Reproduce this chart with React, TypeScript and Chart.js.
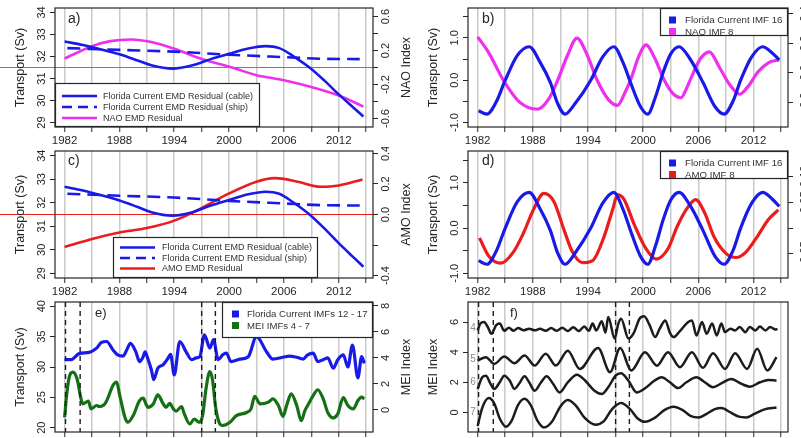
import { useEffect, useRef } from 'react';
import { Chart, registerables } from 'chart.js';

Chart.register(...registerables);

const FONT = '"Liberation Sans", Arial, Helvetica, sans-serif';
const INK = '#262626';
const GRID = '#cacaca';
const BLUE = '#1a1ae8';
const MAGENTA = '#ee30ee';
const RED = '#ec1c1c';
const GREEN = '#157015';
const BLACK = '#1c1c1c';

type Pt = [number, number];

// shared time axis
const X_MIN = 1980.95;
const X_MAX = 2015.75;
const YEAR_TICKS = [1982, 1985, 1988, 1991, 1994, 1997, 2000, 2003, 2006, 2009, 2012, 2015];
const YEAR_LABELS = [1982, 1988, 1994, 2000, 2006, 2012];
const ENSO_EVENTS = [1982.1, 1983.7, 1997.0, 1998.5];

// EMD residuals (Sv, index units)
const cableResidual: Pt[] = [
  [1982.0, 32.68], [1984.0, 32.52], [1986.0, 32.32], [1988.0, 32.1], [1990.0, 31.82], [1991.5, 31.6],
  [1993.8, 31.45], [1996.0, 31.6], [1998.0, 31.88], [2000.0, 32.12], [2002.0, 32.35], [2004.0, 32.47],
  [2005.5, 32.38], [2007.0, 32.02], [2008.8, 31.5], [2010.5, 30.88], [2012.0, 30.28], [2013.5, 29.72], [2014.7, 29.28],
];
const shipResidual: Pt[] = [
  [1982.3, 32.38], [1988.0, 32.3], [1994.0, 32.22], [2000.0, 32.08], [2006.0, 31.97], [2010.0, 31.9], [2014.3, 31.88],
];
const naoResidual: Pt[] = [
  [1982.0, 0.105], [1985.0, 0.25], [1987.0, 0.31], [1989.3, 0.33], [1991.5, 0.3], [1994.0, 0.22], [1997.0, 0.1],
  [2000.3, 0.0], [2003.0, -0.09], [2006.0, -0.15], [2009.0, -0.23], [2012.0, -0.33], [2014.7, -0.46],
];
const amoResidual: Pt[] = [
  [1982.0, -0.213], [1985.0, -0.16], [1988.0, -0.118], [1991.0, -0.089], [1994.0, -0.04], [1996.5, 0.027],
  [2000.0, 0.138], [2003.0, 0.215], [2005.0, 0.238], [2007.5, 0.215], [2010.0, 0.182], [2012.0, 0.19], [2014.6, 0.23],
];

// intrinsic mode functions
const fcImf16: Pt[] = [
  [1982.1, -0.72], [1983.0, -0.8], [1984.0, -0.52], [1985.0, 0.0], [1986.3, 0.58], [1987.6, 0.79], [1988.8, 0.42],
  [1989.9, -0.05], [1990.7, -0.55], [1991.5, -0.8], [1992.6, -0.55], [1994.3, 0.0], [1995.6, 0.55], [1996.8, 0.79],
  [1997.8, 0.42], [1998.7, -0.1], [1999.7, -0.62], [2000.5, -0.8], [2001.3, -0.42], [2002.2, 0.2], [2003.0, 0.62],
  [2003.9, 0.79], [2005.1, 0.5], [2006.5, -0.05], [2007.8, -0.62], [2008.8, -0.8], [2009.8, -0.48], [2010.6, 0.0],
  [2011.8, 0.55], [2013.0, 0.79], [2014.0, 0.65], [2014.8, 0.48],
];
const naoImf8: Pt[] = [
  [1982.0, 0.244], [1983.2, 0.136], [1984.8, -0.052], [1986.5, -0.197], [1988.5, -0.249], [1989.7, -0.182],
  [1990.7, -0.052], [1991.8, 0.122], [1992.8, 0.235], [1993.9, 0.122], [1995.0, -0.052], [1996.2, -0.182],
  [1997.2, -0.223], [1998.0, -0.139], [1998.7, -0.037], [1999.5, 0.107], [2000.3, 0.189], [2001.3, 0.093],
  [2002.3, -0.052], [2003.3, -0.147], [2004.1, -0.171], [2004.7, -0.11], [2005.2, -0.037], [2006.2, 0.093],
  [2007.2, 0.142], [2008.3, 0.035], [2009.4, -0.081], [2010.5, -0.147], [2011.4, -0.095], [2012.5, 0.006],
  [2013.7, 0.07], [2014.8, 0.087],
];
const amoImf8: Pt[] = [
  [1982.2, -0.019], [1983.2, -0.054], [1984.5, -0.068], [1985.9, -0.046], [1987.0, -0.009], [1988.1, 0.037],
  [1989.2, 0.067], [1990.3, 0.051], [1991.4, -0.004], [1992.3, -0.046], [1993.4, -0.067], [1994.5, -0.063],
  [1995.7, -0.019], [1996.7, 0.037], [1997.2, 0.064], [1997.9, 0.056], [1999.0, 0.008], [2000.3, -0.04],
  [2001.4, -0.06], [2002.7, -0.04], [2003.7, 0.003], [2004.8, 0.039], [2005.7, 0.055], [2006.7, 0.029],
  [2007.7, -0.017], [2009.0, -0.049], [2010.1, -0.057], [2011.2, -0.046], [2012.5, -0.014], [2013.6, 0.016],
  [2014.7, 0.035],
];
const fcImfs12to17: Pt[] = [
  [1982.0, 31.2], [1982.7, 31.2], [1983.6, 32.2], [1984.7, 32.4], [1985.5, 33.1], [1986.0, 34.0], [1986.6, 34.2],
  [1987.3, 32.8], [1987.8, 32.0], [1988.4, 31.8], [1988.8, 32.8], [1989.2, 33.9], [1989.8, 32.5], [1990.2, 30.9],
  [1990.6, 31.7], [1990.8, 32.5], [1991.1, 31.4], [1991.5, 29.5], [1991.75, 27.9], [1992.2, 29.8], [1992.8, 30.4],
  [1993.3, 31.4], [1993.6, 32.1], [1994.0, 28.7], [1994.6, 34.2], [1995.3, 32.5], [1995.9, 31.2], [1996.4, 31.5],
  [1996.8, 31.7], [1997.3, 35.3], [1997.9, 33.1], [1998.3, 34.5], [1998.8, 31.2], [1999.3, 32.0], [1999.7, 32.3],
  [2000.2, 30.9], [2001.2, 31.3], [2002.1, 31.7], [2003.0, 35.0], [2004.1, 32.5], [2004.8, 31.3], [2005.9, 31.6],
  [2006.6, 31.8], [2007.4, 31.6], [2008.1, 31.3], [2008.6, 32.0], [2009.2, 32.3], [2009.7, 30.9], [2010.3, 31.2],
  [2010.8, 31.5], [2011.4, 29.8], [2011.9, 31.2], [2012.5, 32.0], [2013.0, 30.0], [2013.5, 33.6], [2014.1, 28.2],
  [2014.5, 31.7], [2014.8, 30.6],
];
const meiImfs4to7: Pt[] = [
  [1982.0, -0.57], [1982.2, 0.98], [1982.5, 2.5], [1982.9, 2.9], [1983.4, 2.3], [1983.75, 1.0], [1984.0, 0.46],
  [1984.6, 0.67], [1984.9, 0.08], [1985.5, 0.34], [1985.8, 0.26], [1986.4, 0.46], [1986.7, 0.85], [1987.3, 1.9],
  [1987.7, 2.14], [1988.0, 1.24], [1988.6, -0.57], [1988.9, -0.95], [1989.5, -0.44], [1990.2, 0.72], [1990.6, 0.9],
  [1990.9, 0.46], [1991.1, 0.2], [1991.7, 0.46], [1992.2, 1.15], [1992.8, 0.46], [1993.1, 0.2], [1993.5, 0.5],
  [1993.9, 0.08], [1994.2, -0.1], [1994.8, 0.26], [1995.1, -0.3], [1995.7, -1.08], [1996.2, -0.7], [1996.7, -0.95],
  [1997.1, -0.44], [1997.5, 1.75], [1997.9, 2.95], [1998.2, 2.27], [1998.5, 0.34], [1998.9, -0.95], [1999.3, -1.2],
  [2000.1, -0.95], [2000.8, -0.44], [2001.9, -0.2], [2002.4, 0.08], [2002.8, 1.05], [2003.4, 0.46], [2004.3, 0.6],
  [2004.8, 0.85], [2005.4, 0.34], [2005.9, -0.5], [2006.3, 0.34], [2006.8, 1.24], [2007.4, 0.34], [2007.9, -0.83],
  [2008.3, -0.05], [2008.6, 0.34], [2009.2, 1.1], [2009.7, 1.55], [2010.3, 0.85], [2010.8, -0.2], [2011.4, -0.62],
  [2011.9, -0.3], [2012.5, 0.95], [2013.0, 0.34], [2013.6, 0.08], [2014.1, 0.72], [2014.5, 0.98], [2014.8, 0.85],
];

// MEI IMFs 4-7, stacked with offsets 6, 4, 2, 0
const meiImf4: Pt[] = [
  [1982.0, 5.44], [1982.3, 5.9], [1982.7, 6.0], [1983.1, 5.67], [1983.5, 5.22], [1984.0, 5.78], [1984.4, 5.9],
  [1984.9, 5.42], [1985.4, 5.62], [1985.9, 5.42], [1986.4, 5.6], [1987.0, 5.45], [1987.6, 5.56], [1988.2, 5.45],
  [1988.8, 5.55], [1989.4, 5.42], [1990.0, 5.6], [1990.6, 5.42], [1991.2, 5.62], [1991.8, 5.4], [1992.4, 5.65],
  [1993.0, 5.4], [1993.6, 5.7], [1994.1, 5.42], [1994.5, 5.9], [1994.9, 5.44], [1995.5, 6.05], [1995.9, 5.3],
  [1996.2, 6.33], [1996.9, 4.9], [1997.3, 5.9], [1997.6, 6.22], [1998.4, 4.9], [1999.0, 5.3], [1999.6, 6.22],
  [2000.1, 6.38], [2000.7, 5.8], [2001.3, 5.0], [2001.8, 5.56], [2002.4, 6.11], [2002.9, 5.3], [2003.3, 5.0],
  [2004.0, 5.4], [2004.9, 6.0], [2005.3, 6.11], [2005.8, 5.11], [2006.4, 6.0], [2006.9, 5.22], [2007.5, 5.9],
  [2008.0, 5.11], [2008.5, 5.9], [2008.9, 5.33], [2009.5, 5.56], [2010.0, 5.44], [2010.5, 5.67], [2011.1, 5.33],
  [2011.6, 5.67], [2012.2, 5.44], [2012.7, 5.7], [2013.3, 5.44], [2013.8, 5.67], [2014.4, 5.5], [2014.6, 5.55],
];
const meiImf5: Pt[] = [
  [1982.0, 3.44], [1982.9, 3.67], [1983.8, 3.22], [1984.9, 3.71], [1986.0, 3.27], [1987.1, 3.78], [1988.2, 3.11],
  [1989.4, 3.9], [1990.5, 3.11], [1991.8, 4.1], [1993.1, 2.89], [1995.1, 4.28], [1996.4, 2.67], [1997.5, 4.28],
  [1998.7, 2.78], [2000.2, 4.0], [2001.5, 3.1], [2002.7, 4.0], [2004.0, 3.0], [2005.3, 4.0], [2006.5, 2.96],
  [2007.6, 3.93], [2008.9, 2.89], [2010.0, 3.93], [2011.3, 2.89], [2012.4, 4.22], [2013.5, 2.78], [2014.5, 3.67],
];
const meiImf6: Pt[] = [
  [1982.0, 1.56], [1982.5, 2.33], [1982.9, 2.44], [1983.4, 1.89], [1983.8, 1.56], [1984.4, 2.0], [1984.9, 2.44],
  [1985.5, 2.1], [1986.0, 1.56], [1986.5, 1.9], [1987.1, 2.4], [1987.6, 2.0], [1988.2, 1.44], [1988.9, 2.0],
  [1989.5, 2.4], [1990.2, 1.9], [1990.9, 1.33], [1991.8, 2.0], [1992.8, 2.5], [1993.7, 2.1], [1994.7, 1.44],
  [1995.5, 1.22], [1996.2, 1.67], [1997.0, 2.44], [1997.6, 2.6], [1998.4, 2.1], [1999.3, 1.33], [2000.2, 1.6],
  [2001.2, 2.1], [2002.0, 2.33], [2002.9, 2.0], [2003.8, 1.62], [2004.7, 2.0], [2005.8, 2.33], [2006.7, 2.0],
  [2007.6, 1.67], [2008.5, 1.93], [2009.6, 2.22], [2010.7, 1.89], [2011.6, 1.71], [2012.7, 2.0], [2013.6, 2.16],
  [2014.5, 2.11],
];
const meiImf7: Pt[] = [
  [1982.0, -0.9], [1982.5, 0.3], [1983.2, 0.95], [1983.8, 0.6], [1984.4, -0.4], [1985.1, -0.95], [1985.7, -0.55],
  [1986.4, 0.5], [1987.1, 0.9], [1987.8, 0.45], [1988.5, -0.55], [1989.2, -1.0], [1990.1, -0.6], [1991.0, 0.4],
  [1991.8, 0.82], [1992.6, 0.5], [1993.7, -0.4], [1994.8, -0.82], [1995.7, -0.6], [1996.6, 0.2], [1997.6, 0.62],
  [1998.6, 0.2], [1999.4, -0.4], [2000.2, -0.62], [2001.3, -0.35], [2002.3, 0.15], [2003.3, 0.38], [2004.3, 0.15],
  [2005.2, -0.25], [2006.0, -0.34], [2006.9, -0.1], [2007.8, 0.22], [2008.5, 0.29], [2009.5, 0.0], [2010.4, -0.28],
  [2011.2, -0.33], [2012.1, -0.1], [2013.2, 0.2], [2014.5, 0.32],
];
const imfTags = [
  { text: '4', value: 5.6 },
  { text: '5', value: 3.5 },
  { text: '6', value: 2.0 },
  { text: '7', value: 0.0 },
];

interface AxisSpec {
  min: number; max: number; ticks: number[]; labels: number[]; digits: number; title: string; gap?: number;
}
interface LegendItem { kind: 'line' | 'dash' | 'box'; color: string; text: string; }
interface LegendSpec {
  dx: number; dy: number; w?: number; h?: number; first: number; pitch: number;
  symX: number; symW: number; textX: number; size: number; items: LegendItem[];
}
interface SeriesSpec { pts: Pt[]; color: string; width: number; dash?: number[]; right?: boolean; }
interface PanelSpec {
  key: string; left: number; top: number; width: number; height: number;
  padTop: number; axisL: number; axisR: number; axisB: number;
  yL: AxisSpec; yR?: AxisSpec; yearLabels: boolean;
  series: SeriesSpec[];
  letter: { text: string; dx: number; dy: number; size: number };
  legend: LegendSpec;
  zeroLine?: string;
  events?: boolean;
  tags?: { text: string; value: number }[];
}

const transportAxis: AxisSpec = { min: 28.8, max: 34.2, ticks: [29, 30, 31, 32, 33, 34], labels: [29, 30, 31, 32, 33, 34], digits: 0, title: 'Transport (Sv)' };
const imfAxis: AxisSpec = { min: -1.104, max: 1.704, ticks: [-1, -0.5, 0, 0.5, 1, 1.5], labels: [-1, 0, 1], digits: 1, title: 'Transport (Sv)' };

const PANELS: PanelSpec[] = [
  {
    key: 'a', left: 0, top: 0, width: 420, height: 147, padTop: 8, axisL: 55, axisR: 47, axisB: 20,
    yL: transportAxis,
    yR: { min: -0.7, max: 0.7, ticks: [-0.6, -0.4, -0.2, 0, 0.2, 0.4, 0.6], labels: [-0.6, -0.2, 0.2, 0.6], digits: 1, title: 'NAO Index' },
    yearLabels: true,
    series: [
      { pts: cableResidual, color: BLUE, width: 2.6 },
      { pts: shipResidual, color: BLUE, width: 2.6, dash: [13, 7] },
      { pts: naoResidual, color: MAGENTA, width: 2.6, right: true },
    ],
    letter: { text: 'a)', dx: 13, dy: 11, size: 14 },
    legend: {
      dx: 0, dy: 75, w: 205, first: 13, pitch: 11, symX: 7, symW: 35, textX: 48, size: 9,
      items: [
        { kind: 'line', color: BLUE, text: 'Florida Current EMD Residual (cable)' },
        { kind: 'dash', color: BLUE, text: 'Florida Current EMD Residual (ship)' },
        { kind: 'line', color: MAGENTA, text: 'NAO EMD Residual' },
      ],
    },
    zeroLine: MAGENTA,
  },
  {
    key: 'b', left: 420, top: 0, width: 381, height: 147, padTop: 8, axisL: 48, axisR: 13, axisB: 20,
    yL: imfAxis,
    yR: { min: -0.37, max: 0.44, ticks: [-0.2, 0, 0.2, 0.4], labels: [-0.2, 0, 0.2, 0.4], digits: 1, title: '', gap: 17 },
    yearLabels: true,
    series: [
      { pts: fcImf16, color: BLUE, width: 3.2 },
      { pts: naoImf8, color: MAGENTA, width: 3.2, right: true },
    ],
    letter: { text: 'b)', dx: 14, dy: 11, size: 14 },
    legend: {
      dx: 192, dy: 0, h: 28, first: 12, pitch: 11.5, symX: 9, symW: 7, textX: 25, size: 9.7,
      items: [
        { kind: 'box', color: BLUE, text: 'Florida Current IMF 16' },
        { kind: 'box', color: MAGENTA, text: 'NAO IMF 8' },
      ],
    },
  },
  {
    key: 'c', left: 0, top: 147, width: 420, height: 151, padTop: 4, axisL: 55, axisR: 47, axisB: 20,
    yL: transportAxis,
    yR: { min: -0.416, max: 0.416, ticks: [-0.4, -0.2, 0, 0.2, 0.4], labels: [-0.4, 0, 0.2, 0.4], digits: 1, title: 'AMO Index' },
    yearLabels: true,
    series: [
      { pts: cableResidual, color: BLUE, width: 2.6 },
      { pts: shipResidual, color: BLUE, width: 2.6, dash: [13, 7] },
      { pts: amoResidual, color: RED, width: 2.6, right: true },
    ],
    letter: { text: 'c)', dx: 13, dy: 10, size: 14 },
    legend: {
      dx: 58, dy: 86, w: 205, first: 10.5, pitch: 10.5, symX: 7, symW: 35, textX: 49, size: 9,
      items: [
        { kind: 'line', color: BLUE, text: 'Florida Current EMD Residual (cable)' },
        { kind: 'dash', color: BLUE, text: 'Florida Current EMD Residual (ship)' },
        { kind: 'line', color: RED, text: 'AMO EMD Residual' },
      ],
    },
    zeroLine: RED,
  },
  {
    key: 'd', left: 420, top: 147, width: 381, height: 151, padTop: 4, axisL: 48, axisR: 13, axisB: 20,
    yL: imfAxis,
    yR: { min: -0.0966, max: 0.149, ticks: [-0.05, 0, 0.05, 0.1], labels: [-0.05, 0.05, 0.1], digits: 2, title: '', gap: 17 },
    yearLabels: true,
    series: [
      { pts: fcImf16, color: BLUE, width: 3.2 },
      { pts: amoImf8, color: RED, width: 3.2, right: true },
    ],
    letter: { text: 'd)', dx: 14, dy: 10, size: 14 },
    legend: {
      dx: 192, dy: 0, h: 28, first: 12, pitch: 11.5, symX: 9, symW: 7, textX: 25, size: 9.7,
      items: [
        { kind: 'box', color: BLUE, text: 'Florida Current IMF 16' },
        { kind: 'box', color: RED, text: 'AMO IMF 8' },
      ],
    },
  },
  {
    key: 'e', left: 0, top: 298, width: 420, height: 140, padTop: 4, axisL: 55, axisR: 47, axisB: 6,
    yL: { min: 19.3, max: 40.7, ticks: [20, 25, 30, 35, 40], labels: [20, 25, 30, 35, 40], digits: 0, title: 'Transport (Sv)' },
    yR: { min: -1.7, max: 8.3, ticks: [0, 2, 4, 6, 8], labels: [0, 2, 4, 6, 8], digits: 0, title: 'MEI Index' },
    yearLabels: false,
    series: [
      { pts: fcImfs12to17, color: BLUE, width: 3.2 },
      { pts: meiImfs4to7, color: GREEN, width: 3.2, right: true },
    ],
    letter: { text: 'e)', dx: 40, dy: 11, size: 13 },
    legend: {
      dx: 167, dy: 0, h: 36, first: 12, pitch: 11.5, symX: 10, symW: 7, textX: 25, size: 9.6,
      items: [
        { kind: 'box', color: BLUE, text: 'Florida Current IMFs 12 - 17' },
        { kind: 'box', color: GREEN, text: 'MEI IMFs 4 - 7' },
      ],
    },
    events: true,
  },
  {
    key: 'f', left: 420, top: 298, width: 381, height: 140, padTop: 4, axisL: 48, axisR: 13, axisB: 6,
    yL: { min: -1.3, max: 7.33, ticks: [0, 2, 4, 6], labels: [0, 2, 4, 6], digits: 0, title: 'MEI Index' },
    yearLabels: false,
    series: [
      { pts: meiImf4, color: BLACK, width: 2.5 },
      { pts: meiImf5, color: BLACK, width: 2.5 },
      { pts: meiImf6, color: BLACK, width: 2.5 },
      { pts: meiImf7, color: BLACK, width: 2.5 },
    ],
    letter: { text: 'f)', dx: 42, dy: 11, size: 13 },
    legend: { dx: 0, dy: 0, first: 0, pitch: 0, symX: 0, symW: 0, textX: 0, size: 0, items: [] },
    events: true,
    tags: imfTags,
  },
];

function rotatedText(ctx: CanvasRenderingContext2D, text: string, x: number, y: number) {
  ctx.save();
  ctx.translate(x, y);
  ctx.rotate(-Math.PI / 2);
  ctx.textAlign = 'center';
  ctx.textBaseline = 'middle';
  ctx.fillText(text, 0, 0);
  ctx.restore();
}

function drawLegend(ctx: CanvasRenderingContext2D, ca: any, lg: LegendSpec) {
  if (!lg.items.length) return;
  const x0 = ca.left + lg.dx;
  const y0 = ca.top + lg.dy;
  const w = lg.w ?? ca.right - x0;
  const h = lg.h ?? ca.bottom - y0;
  ctx.save();
  ctx.fillStyle = '#ffffff';
  ctx.fillRect(x0, y0, w, h);
  ctx.strokeStyle = INK;
  ctx.lineWidth = 1.2;
  ctx.strokeRect(x0 + 0.5, y0 + 0.5, w - 1, h - 1);
  lg.items.forEach((it, i) => {
    const y = y0 + lg.first + i * lg.pitch;
    if (it.kind === 'box') {
      ctx.fillStyle = it.color;
      ctx.fillRect(x0 + lg.symX, y - 3.5, 7, 7);
    } else {
      ctx.strokeStyle = it.color;
      ctx.lineWidth = 2.6;
      ctx.setLineDash(it.kind === 'dash' ? [10, 6] : []);
      ctx.beginPath();
      ctx.moveTo(x0 + lg.symX, y);
      ctx.lineTo(x0 + lg.symX + lg.symW, y);
      ctx.stroke();
      ctx.setLineDash([]);
    }
    ctx.fillStyle = '#333333';
    ctx.font = `${lg.size}px ${FONT}`;
    ctx.textAlign = 'left';
    ctx.textBaseline = 'middle';
    ctx.fillText(it.text, x0 + lg.textX, y + 0.5);
  });
  ctx.restore();
}

const decoPlugin = {
  id: 'deco',
  beforeDatasetsDraw(chart: any, _args: any, o: any) {
    const spec: PanelSpec = o.spec;
    if (!spec.zeroLine) return;
    const { ctx, chartArea: ca } = chart;
    const y = chart.scales.y2.getPixelForValue(0);
    ctx.save();
    ctx.strokeStyle = spec.zeroLine;
    ctx.lineWidth = 1.2;
    ctx.beginPath();
    ctx.moveTo(0, y);
    ctx.lineTo(ca.right, y);
    ctx.stroke();
    ctx.restore();
  },
  afterDatasetsDraw(chart: any, _args: any, o: any) {
    const spec: PanelSpec = o.spec;
    const { ctx, chartArea: ca } = chart;
    const xs = chart.scales.x;

    if (spec.events) {
      ctx.save();
      ctx.strokeStyle = BLACK;
      ctx.lineWidth = 1.4;
      ctx.setLineDash([5, 4]);
      ENSO_EVENTS.forEach((yr) => {
        const x = xs.getPixelForValue(yr);
        ctx.beginPath();
        ctx.moveTo(x, ca.top);
        ctx.lineTo(x, ca.bottom);
        ctx.stroke();
      });
      ctx.restore();
    }

    drawLegend(ctx, ca, spec.legend);

    ctx.save();
    ctx.fillStyle = INK;
    ctx.font = `${spec.letter.size}px ${FONT}`;
    ctx.textAlign = 'left';
    ctx.textBaseline = 'middle';
    ctx.fillText(spec.letter.text, ca.left + spec.letter.dx, ca.top + spec.letter.dy);
    ctx.restore();

    if (spec.tags) {
      ctx.save();
      ctx.fillStyle = '#8a8a8a';
      ctx.font = `10px ${FONT}`;
      ctx.textAlign = 'center';
      ctx.textBaseline = 'middle';
      spec.tags.forEach((t) => ctx.fillText(t.text, ca.left + 5, chart.scales.y.getPixelForValue(t.value)));
      ctx.restore();
    }

    // plot frame
    ctx.save();
    ctx.strokeStyle = INK;
    ctx.lineWidth = 1.2;
    ctx.strokeRect(ca.left, ca.top, ca.right - ca.left, ca.bottom - ca.top);
    ctx.restore();

    // rotated tick labels and axis titles
    ctx.save();
    ctx.fillStyle = INK;
    const midY = (ca.top + ca.bottom) / 2;
    const axes: [string, AxisSpec | undefined, number][] = [
      ['y', spec.yL, -1],
      ['y2', spec.yR, 1],
    ];
    axes.forEach(([id, ax, side]) => {
      if (!ax) return;
      const sc = chart.scales[id];
      const edge = side < 0 ? ca.left : ca.right;
      const gap = ax.gap ?? 13;
      ctx.font = `11px ${FONT}`;
      ax.labels.forEach((v) => rotatedText(ctx, v.toFixed(ax.digits), edge + side * gap, sc.getPixelForValue(v)));
      if (ax.title) {
        ctx.font = `12.5px ${FONT}`;
        rotatedText(ctx, ax.title, edge + side * 34, midY);
      }
    });
    ctx.restore();
  },
};

function yAxis(position: 'left' | 'right', ax: AxisSpec, width: number) {
  return {
    type: 'linear',
    position,
    min: ax.min,
    max: ax.max,
    afterBuildTicks: (s: any) => {
      s.ticks = ax.ticks.map((v) => ({ value: v }));
    },
    afterFit: (s: any) => {
      s.width = width;
    },
    grid: { drawOnChartArea: false, drawTicks: true, tickLength: 5, tickColor: INK, tickWidth: 1 },
    border: { display: false },
    ticks: { color: 'rgba(0,0,0,0)', font: { size: 1 }, autoSkip: false, padding: 0 },
  };
}

function buildConfig(p: PanelSpec): any {
  const scales: any = {
    x: {
      type: 'linear',
      position: 'bottom',
      min: X_MIN,
      max: X_MAX,
      afterBuildTicks: (s: any) => {
        s.ticks = YEAR_TICKS.map((v) => ({ value: v }));
      },
      afterFit: (s: any) => {
        s.height = p.axisB;
      },
      grid: { color: GRID, lineWidth: 1.5, drawOnChartArea: true, drawTicks: true, tickLength: 5, tickColor: INK, tickWidth: 1 },
      border: { display: false },
      ticks: {
        autoSkip: false,
        maxRotation: 0,
        minRotation: 0,
        padding: 2,
        color: INK,
        font: { family: FONT, size: 11.5 },
        callback: (v: any) => (p.yearLabels && YEAR_LABELS.includes(Number(v)) ? String(v) : ''),
      },
    },
    y: yAxis('left', p.yL, p.axisL),
  };
  if (p.yR) scales.y2 = yAxis('right', p.yR, p.axisR);

  return {
    type: 'line',
    data: {
      datasets: p.series.map((s) => ({
        data: s.pts.map(([x, y]) => ({ x, y })),
        borderColor: s.color,
        borderWidth: s.width,
        borderDash: s.dash ?? [],
        borderCapStyle: 'butt',
        borderJoinStyle: 'round',
        pointRadius: 0,
        cubicInterpolationMode: 'monotone',
        fill: false,
        yAxisID: s.right ? 'y2' : 'y',
      })),
    },
    options: {
      animation: false,
      responsive: false,
      devicePixelRatio: 1,
      events: [],
      layout: { padding: { top: p.padTop, left: 0, right: p.yR ? 0 : p.axisR, bottom: 0 }, autoPadding: false },
      plugins: { legend: { display: false }, tooltip: { enabled: false }, deco: { spec: p } },
      scales,
    },
    plugins: [decoPlugin],
  };
}

function Panel({ spec }: { spec: PanelSpec }) {
  const ref = useRef<HTMLCanvasElement>(null);
  useEffect(() => {
    if (!ref.current) return;
    const chart = new Chart(ref.current, buildConfig(spec));
    return () => chart.destroy();
  }, [spec]);
  return (
    <canvas
      ref={ref}
      width={spec.width}
      height={spec.height}
      style={{ position: 'absolute', left: spec.left, top: spec.top, width: spec.width, height: spec.height }}
    />
  );
}

export default function App() {
  return (
    <div style={{ position: 'fixed', left: 0, top: 0, width: 801, height: 438, background: '#ffffff', overflow: 'hidden' }}>
      {PANELS.map((p) => (
        <Panel key={p.key} spec={p} />
      ))}
    </div>
  );
}
